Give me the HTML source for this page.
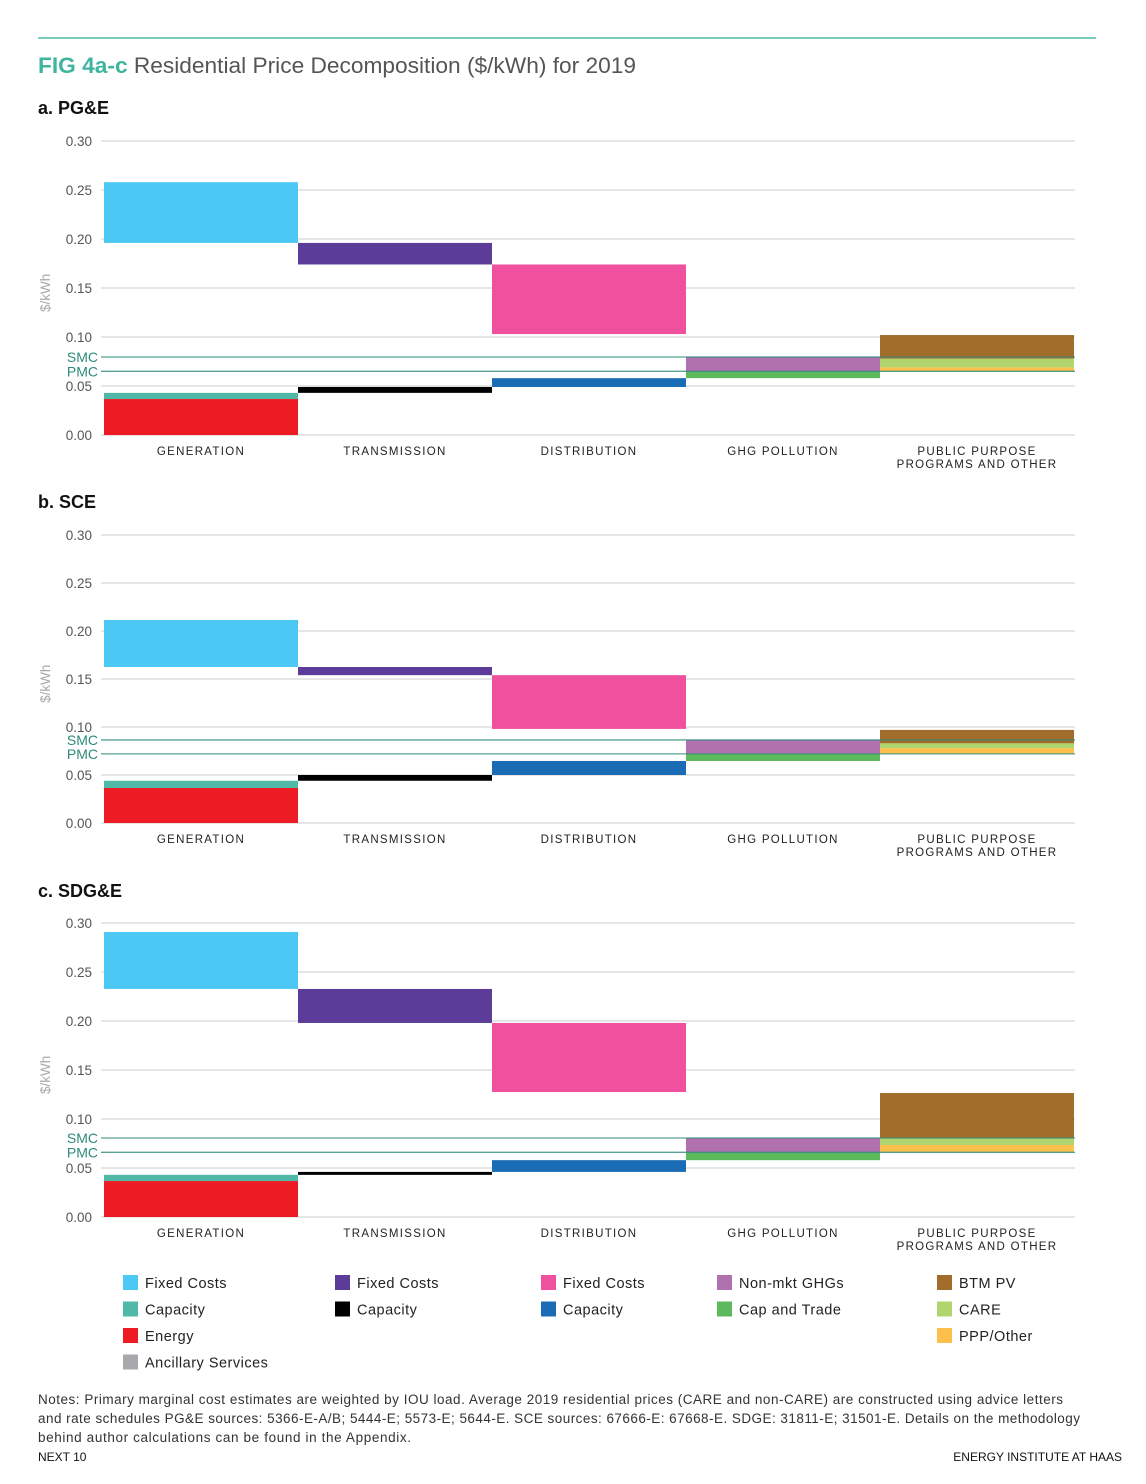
<!DOCTYPE html>
<html><head><meta charset="utf-8"><style>
html,body{margin:0;padding:0;background:#fff;}
body{width:1146px;height:1479px;overflow:hidden;font-family:"Liberation Sans",sans-serif;}
svg text{font-family:"Liberation Sans",sans-serif;}
</style></head><body>
<svg id="page" width="1146" height="1479" viewBox="0 0 1146 1479" xmlns="http://www.w3.org/2000/svg">
<line x1="38" y1="38" x2="1096" y2="38" stroke="#4dbaa8" stroke-width="1.5"/>
<text x="38" y="73" font-size="22.5" fill="#555" textLength="598" lengthAdjust="spacingAndGlyphs"><tspan fill="#3fb5a0" font-weight="bold">FIG 4a-c</tspan> Residential Price Decomposition ($/kWh) for 2019</text>
<g id="charts"></g>
<g id="legend"></g>
<text font-size="13.5" fill="#333">
<tspan x="38" y="1404" textLength="1025" lengthAdjust="spacing">Notes: Primary marginal cost estimates are weighted by IOU load.  Average 2019 residential prices (CARE and non-CARE) are constructed using advice letters</tspan>
<tspan x="38" y="1423" textLength="1042" lengthAdjust="spacing">and rate schedules PG&amp;E sources: 5366-E-A/B; 5444-E; 5573-E; 5644-E. SCE sources: 67666-E: 67668-E. SDGE: 31811-E; 31501-E.  Details on the methodology</tspan>
<tspan x="38" y="1442" textLength="373" lengthAdjust="spacing">behind author calculations can be found in the Appendix.</tspan>
</text>
<text x="38" y="1461" font-size="12" fill="#111">NEXT 10</text>
<text x="1122" y="1461" font-size="12" fill="#111" text-anchor="end">ENERGY INSTITUTE AT HAAS</text>
</svg>
<script>
// shared
const categories = ["GENERATION","TRANSMISSION","DISTRIBUTION","GHG POLLUTION","PUBLIC PURPOSE|PROGRAMS AND OTHER"];
const yTicks = [0,0.05,0.10,0.15,0.20,0.25,0.30];
const yTickLabels = ["0.00","0.05","0.10","0.15","0.20","0.25","0.30"];
const chartTitles = ["a. PG&E","b. SCE","c. SDG&E"];
// segment keys (same order for all charts)
const segCol = [0,0,0,1,1,2,2,3,3,4,4,4];
const segKey = ["genEnergy","genCap","genFixed","trCap","trFixed","diCap","diFixed","ghgCT","ghgNon","pppOther","pppCare","pppBtm"];
// PG&E
const pgeLo = [0,0.0367,0.196,0.043,0.174,0.049,0.103,0.058,0.065,0.065,0.069,0.078];
const pgeHi = [0.0367,0.043,0.258,0.049,0.196,0.058,0.174,0.065,0.080,0.069,0.078,0.102];
const pgeSMC = 0.0796, pgePMC = 0.065;
// SCE
const sceLo = [0,0.0365,0.1625,0.044,0.154,0.050,0.098,0.0646,0.072,0.072,0.078,0.083];
const sceHi = [0.0365,0.044,0.2115,0.050,0.1625,0.0646,0.154,0.072,0.0865,0.078,0.083,0.097];
const sceSMC = 0.0865, scePMC = 0.072;
// SDG&E
const sdgLo = [0,0.0367,0.2327,0.043,0.198,0.046,0.1275,0.058,0.066,0.066,0.0735,0.0806];
const sdgHi = [0.0367,0.043,0.2908,0.046,0.2327,0.058,0.198,0.066,0.0806,0.0735,0.0806,0.1265];
const sdgSMC = 0.0806, sdgPMC = 0.066;

const colors = {genEnergy:"#ed1c24",genCap:"#4fb8a6",genFixed:"#4cc8f4",trCap:"#000000",trFixed:"#5b3d99",diCap:"#1a6cb5",diFixed:"#ef519f",ghgCT:"#5cba5c",ghgNon:"#b171ae",pppOther:"#fdc04c",pppCare:"#b0d46e",pppBtm:"#a26c2a"};
const NS="http://www.w3.org/2000/svg";
function mk(tag,attrs,parent){const e=document.createElementNS(NS,tag);for(const k in attrs)e.setAttribute(k,attrs[k]);parent.appendChild(e);return e;}
const layouts=[{titleY:114,y0:435,y30:141},{titleY:508,y0:823,y30:535},{titleY:897,y0:1217,y30:923}];
const datasets=[[pgeLo,pgeHi,pgeSMC,pgePMC],[sceLo,sceHi,sceSMC,scePMC],[sdgLo,sdgHi,sdgSMC,sdgPMC]];
const root=document.getElementById('charts');
const xL=101,xR=1075,colX0=104,colW=194;
layouts.forEach((L,ci)=>{
  const g=mk('g',{},root);
  
  
  const ys=v=>L.y0-(L.y0-L.y30)*v/0.30;
  const t=mk('text',{x:38,y:L.titleY,'font-size':18,'font-weight':'bold',fill:'#111'},g);t.textContent=chartTitles[ci];
  
  
  yTicks.forEach((v,i)=>{
    const ln=mk('line',{x1:xL,x2:xR,y1:ys(v),y2:ys(v),stroke:'#d6d6d6','stroke-width':1.2},g);
    
    
    const tx=mk('text',{x:92,y:ys(v)+5,'font-size':13.5,fill:'#555','text-anchor':'end'},g);tx.textContent=yTickLabels[i];
    
    
  });
  const yt=mk('text',{x:0,y:0,'font-size':13.5,fill:'#aaa','text-anchor':'middle',transform:`translate(50,${ys(0.145)}) rotate(-90)`},g);yt.textContent='$/kWh';
  
  
  const [lo,hi,smc,pmc]=datasets[ci];
  segKey.forEach((k,i)=>{
    const r=mk('rect',{x:colX0+segCol[i]*colW,width:colW,y:ys(hi[i]),height:Math.max(0.5,ys(lo[i])-ys(hi[i])),fill:colors[k]},g);
    
    
  });
  [["SMC",smc],["PMC",pmc]].forEach(([n,v])=>{
    const ln=mk('line',{x1:xL,x2:xR,y1:ys(v),y2:ys(v),stroke:'#2e8b7a','stroke-width':1.3,opacity:0.8},g);
    
    
    const tx=mk('text',{x:98,y:ys(v)+5,'font-size':14,fill:'#2e8b7a','text-anchor':'end'},g);tx.textContent=n;
    
    
  });
  categories.forEach((c,i)=>{
    c.split('|').forEach((line,j)=>{
      const tx=mk('text',{x:colX0+colW*i+colW/2,y:L.y0+20+j*13,'font-size':11.5,'letter-spacing':1.3,fill:'#222','text-anchor':'middle'},g);tx.textContent=line;
      
      
    });
  });
});
// legend
const legendLabels=[["Fixed Costs","Capacity","Energy","Ancillary Services"],["Fixed Costs","Capacity"],["Fixed Costs","Capacity"],["Non-mkt GHGs","Cap and Trade"],["BTM PV","CARE","PPP/Other"]];
const legendColors=[["#4cc8f4","#4fb8a6","#ed1c24","#a7a9ac"],["#5b3d99","#000"],["#ef519f","#1a6cb5"],["#b171ae","#5cba5c"],["#a26c2a","#b0d46e","#fdc04c"]];
const legX=[123,335,541,717,937];
const lg=document.getElementById('legend');
legendLabels.forEach((col,ci)=>col.forEach((lab,j)=>{
  const y=1275+j*26.5;
  const r=mk('rect',{x:legX[ci],y:y,width:15,height:15,fill:legendColors[ci][j]},lg);
  
  
  const tx=mk('text',{x:legX[ci]+22,y:y+13,'font-size':14.5,fill:'#222','letter-spacing':0.5},lg);tx.textContent=lab;
  
  
}));
</script>
</body></html>
